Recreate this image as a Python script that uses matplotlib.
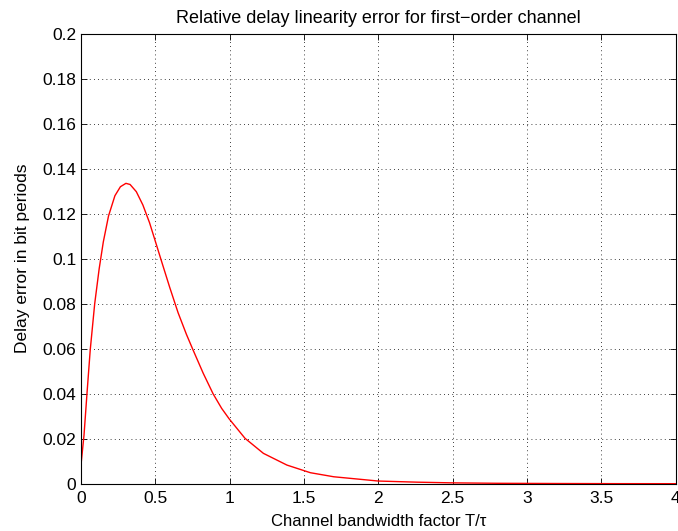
import matplotlib
matplotlib.use("Agg")
import matplotlib.pyplot as plt

# Values
bandwidth = [0.002, 0.020, 0.040, 0.062, 0.092, 0.122, 0.150, 0.185, 0.228, 0.265,
             0.302, 0.330, 0.372, 0.416, 0.461, 0.495, 0.541, 0.597, 0.653, 0.709,
             0.754, 0.822, 0.889, 0.946, 0.997, 1.103, 1.227, 1.385, 1.543, 1.70,
             2.0, 2.26, 2.49, 2.8, 3.2, 3.6, 4.0]
delay_error = [0.0098, 0.0215, 0.0400, 0.0595, 0.0800, 0.0955, 0.1075, 0.1190, 0.1280, 0.1320,
               0.1335, 0.1330, 0.1298, 0.1239, 0.1160, 0.1088, 0.0990, 0.0872, 0.0760, 0.0664,
               0.0594, 0.0491, 0.0399, 0.0335, 0.0288, 0.0202, 0.0135, 0.0083, 0.0049, 0.0031,
               0.0012, 0.0007, 0.0004, 0.0002, 0.0001, 0.00004, 0.00002]

xticks = [0, 0.5, 1, 1.5, 2, 2.5, 3, 3.5, 4]
xticklabels = ["0", "0.5", "1", "1.5", "2", "2.5", "3", "3.5", "4"]
yticks = [0, 0.02, 0.04, 0.06, 0.08, 0.1, 0.12, 0.14, 0.16, 0.18, 0.2]
yticklabels = ["0", "0.02", "0.04", "0.06", "0.08", "0.1", "0.12", "0.14", "0.16", "0.18", "0.2"]

plt.rcParams['font.family'] = ['Liberation Sans', 'DejaVu Sans']

fig = plt.figure(figsize=(6.78, 5.31), dpi=100)
ax = fig.add_axes([0.1195, 0.089, 0.877, 0.8475])
ax.plot(bandwidth, delay_error, color='red', linewidth=1.0)

ax.set_xlim(0, 4)
ax.set_ylim(0, 0.2)
ax.set_xticks(xticks)
ax.set_xticklabels(xticklabels)
ax.set_yticks(yticks)
ax.set_yticklabels(yticklabels)
ax.tick_params(direction='in', length=4, labelsize=12.5, top=True, right=True, width=0.6)
ax.tick_params(axis='x', pad=5)
ax.grid(True, color='black', linestyle=(0, (1, 4)), linewidth=0.6)
for s in ax.spines.values():
    s.set_linewidth(0.8)

ax.set_title("Relative delay linearity error for first\u2212order channel", fontsize=13, pad=8)
ax.set_xlabel("Channel bandwidth factor T/\u03c4", fontsize=12, labelpad=6)
ax.set_ylabel("Delay error in bit periods", fontsize=12.5, labelpad=9)

fig.savefig("out.png", dpi=100)
